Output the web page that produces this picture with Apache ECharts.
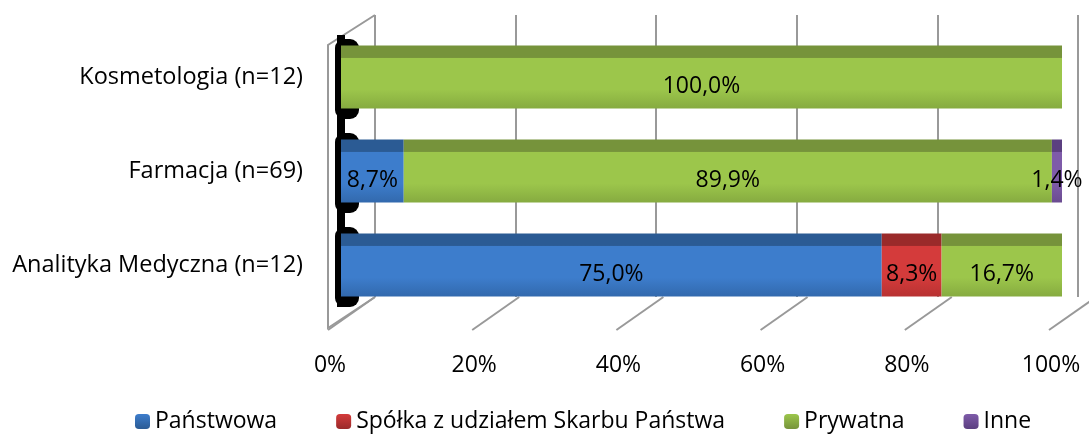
<!DOCTYPE html>
<html>
<head>
<meta charset="utf-8">
<script src="https://cdn.jsdelivr.net/npm/echarts@6/dist/echarts.min.js"></script>
<style>
  html, body { margin: 0; padding: 0; background: #fff; }
  #chart { width: 1089px; height: 434px; }
</style>
</head>
<body>
<div id="chart"></div>
<script>
// kategorie od dołu do góry
var categories = ["Analityka Medyczna (n=12)", "Farmacja (n=69)", "Kosmetologia (n=12)"];
var seriesNames = ["Państwowa", "Spółka z udziałem Skarbu Państwa", "Prywatna", "Inne"];
var panstwowa = [75.0, 8.7, 0];
var spolka = [8.3, 0, 0];
var prywatna = [16.7, 89.9, 100.0];
var inne = [0, 1.4, 0];
var tickValues = [0, 20, 40, 60, 80, 100];
var tickLabels = ["0%", "20%", "40%", "60%", "80%", "100%"];

// kolory: [front, góra, dół frontu]
var colors = [
  ["#3d7dcc", "#2b5b94", "#3269ad"],
  ["#d43b3b", "#9a2a2a", "#b83232"],
  ["#9cc64b", "#76933b", "#86ab40"],
  ["#7e5ba9", "#5b3f80", "#6a4b90"]
];

function face(c) {
  return new echarts.graphic.LinearGradient(0, 0, 0, 1, [
    { offset: 0, color: c[1] },
    { offset: 0.19, color: c[1] },
    { offset: 0.2, color: c[0] },
    { offset: 0.7, color: c[0] },
    { offset: 1, color: c[2] }
  ]);
}
function legendFace(c) {
  return new echarts.graphic.LinearGradient(0, 0, 0, 1, [
    { offset: 0, color: c[0] },
    { offset: 1, color: c[1] }
  ]);
}

var FONT = "Open Sans";
var chart = echarts.init(document.getElementById("chart"));
var datas = [panstwowa, spolka, prywatna, inne];

var series = datas.map(function (d, i) {
  return {
    name: seriesNames[i],
    type: "bar",
    stack: "all",
    barWidth: 63,
    z: 3,
    data: d,
    itemStyle: { color: face(colors[i]) },
    label: {
      show: true,
      position: "inside",
      offset: [0, 9],
      color: "#000",
      fontSize: 23,
      fontFamily: FONT,
      formatter: function (p) {
        return p.value > 0 ? p.value.toFixed(1).replace(".", ",") + "%" : "";
      }
    }
  };
});

// linie podłogi (ukośne) dla wartości osi
series.push({
  type: "custom",
  silent: true,
  z: 1,
  data: tickValues,
  renderItem: function (params, api) {
    var x = api.coord([api.value(0), 0])[0];
    var cs = params.coordSys;
    var yb = cs.y + cs.height;
    return {
      type: "line",
      shape: { x1: x + 34, y1: yb - 15, x2: x - 13, y2: yb + 18 },
      style: { stroke: "#999", lineWidth: 2 }
    };
  }
});

// lewa ściana: obrys i czarne boki słupków
series.push({
  type: "custom",
  silent: true,
  z: 2,
  data: [0, 1, 2],
  renderItem: function (params, api) {
    var cs = params.coordSys;
    var c = api.coord([0, api.value(0)]);
    var children = [{
      type: "rect",
      shape: { x: c[0] - 6, y: c[1] - 38, width: 24, height: 80, r: 9 },
      style: { fill: "#000" }
    }];
    if (params.dataIndex === 0) {
      var yb = cs.y + cs.height;
      children.push({
        type: "polyline",
        shape: { points: [[cs.x + 34, cs.y - 15], [cs.x - 13, cs.y + 15], [cs.x - 13, yb + 16], [cs.x + 34, yb - 15]] },
        style: { stroke: "#999", lineWidth: 2, fill: null }
      });
      children.push({
        type: "rect",
        shape: { x: c[0] - 4, y: cs.y + 5, width: 8, height: cs.height - 10 },
        style: { fill: "#000" }
      });
    }
    return { type: "group", children: children };
  }
});

// oś tylnej ściany (tylko linie siatki)
series.push({
  type: "bar", xAxisIndex: 1, yAxisIndex: 1, data: [], silent: true
});

chart.setOption({
  animation: false,
  legend: {
    top: 405,
    left: 130,
    itemWidth: 15,
    itemHeight: 15,
    itemGap: 59,
    data: seriesNames.map(function (n, i) {
      return { name: n, itemStyle: { color: legendFace(colors[i]) } };
    }),
    textStyle: { fontSize: 23, fontFamily: FONT, color: "#000" }
  },
  grid: [
    { left: 341, right: 27, top: 30, bottom: 122 },
    { left: 375, right: 11, top: 15, bottom: 137 }
  ],
  xAxis: [
    {
      type: "value", min: 0, max: 100, interval: 20, gridIndex: 0,
      axisLine: { show: false }, axisTick: { show: false },
      splitLine: { show: false },
      axisLabel: {
        margin: 42, padding: [0, 22, 0, 0],
        fontSize: 23, fontFamily: FONT, color: "#000",
        formatter: function (v) { return tickLabels[tickValues.indexOf(v)]; }
      }
    },
    {
      type: "value", min: 0, max: 100, interval: 20, gridIndex: 1,
      axisLine: { show: false }, axisTick: { show: false }, axisLabel: { show: false },
      splitLine: { show: true, lineStyle: { color: "#999", width: 2 } }
    }
  ],
  yAxis: [
    {
      type: "category", data: categories, gridIndex: 0,
      axisLine: { show: false }, axisTick: { show: false },
      axisLabel: {
        margin: 38, padding: [20, 0, 0, 0],
        fontSize: 23.5, fontFamily: FONT, color: "#000"
      }
    },
    {
      type: "category", data: categories, gridIndex: 1, show: false
    }
  ],
  series: series
});
</script>
</body>
</html>
